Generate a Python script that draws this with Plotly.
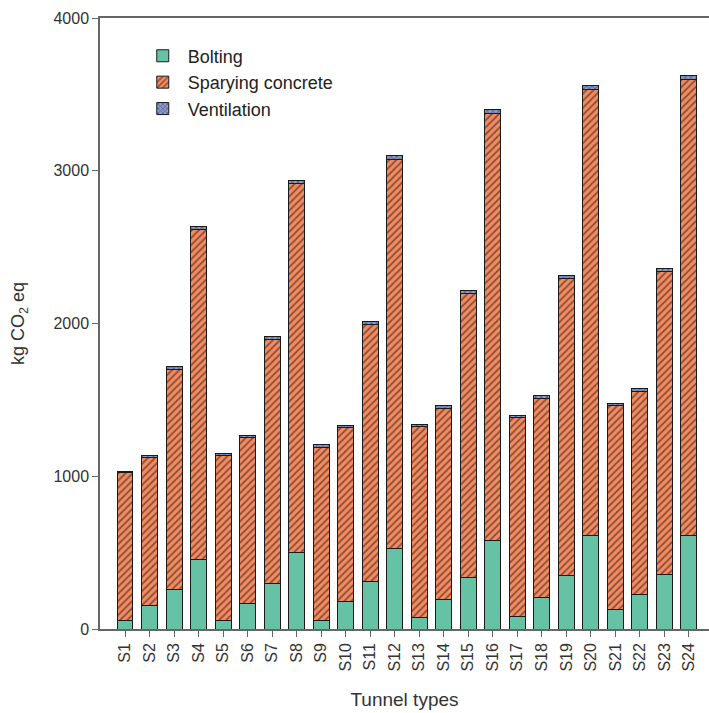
import plotly.graph_objects as go

categories = [f"S{i}" for i in range(1, 25)]
totals = [1034, 1133, 1717, 2638, 1148, 1266, 1914, 2939, 1205, 1331, 2012, 3097,
          1342, 1460, 2213, 3398, 1401, 1527, 2315, 3555, 1477, 1576, 2361, 3622]
bolting = [54, 151, 260, 452, 54, 168, 295, 502, 54, 181, 308, 528,
           77, 194, 338, 581, 79, 207, 352, 609, 129, 225, 360, 615]
ventilation = [12, 13, 16, 20, 13, 14, 17, 22, 14, 15, 18, 23,
               15, 16, 19, 24, 16, 17, 20, 25, 17, 18, 21, 26]
spraying = [t - b - v for t, b, v in zip(totals, bolting, ventilation)]
y_ticks = [0, 1000, 2000, 3000, 4000]

FONT = "Liberation Sans, Arial, sans-serif"
line = dict(color="#1a1a1a", width=1)

fig = go.Figure()
fig.add_trace(go.Bar(x=categories, y=bolting, name="Bolting", width=0.65,
                     marker=dict(color="#66C2A5", line=line)))
fig.add_trace(go.Bar(x=categories, y=spraying, name="Sparying concrete", width=0.65,
                     marker=dict(color="#FC8D62", line=line,
                                 pattern=dict(shape="/", fgcolor="#1a1a1a", bgcolor="#F78B5F",
                                              size=5, solidity=0.38))))
fig.add_trace(go.Bar(x=categories, y=ventilation, name="Ventilation", width=0.65,
                     marker=dict(color="#8DA0CB", line=line,
                                 pattern=dict(shape="x", fgcolor="#1f2a5a", bgcolor="#8DA0CB",
                                              size=4, solidity=0.45))))

fig.update_layout(
    barmode="stack",
    width=709, height=713,
    margin=dict(l=100, r=0, t=18, b=84),
    paper_bgcolor="white", plot_bgcolor="white",
    font=dict(family=FONT, color="#333333", size=15),
    showlegend=True,
    legend=dict(x=0.062, y=0.968, xanchor="left", yanchor="top",
                font=dict(size=18, color="#222222"), bgcolor="rgba(0,0,0,0)",
                traceorder="normal", itemwidth=40, tracegroupgap=0),
    xaxis=dict(range=[-1.02, 23.82], showline=True, linecolor="#666666", linewidth=1.5,
               mirror=True, ticks="outside", ticklen=6, tickcolor="#666666",
               tickangle=-90, tickfont=dict(size=16, color="#333333"),
               title=dict(text="Tunnel types", font=dict(size=19, color="#333333"), standoff=22),
               showgrid=False, zeroline=False),
    yaxis=dict(range=[0, 4000], tickvals=y_ticks, ticktext=[str(v) for v in y_ticks],
               showline=True, linecolor="#666666", linewidth=1.5,
               ticks="outside", ticklen=6, tickcolor="#666666",
               tickfont=dict(size=16, color="#333333"),
               title=dict(text="kg CO<sub>2</sub> eq", font=dict(size=18, color="#333333"), standoff=24),
               showgrid=False, zeroline=False),
)

fig.write_html("out.html", config={"displayModeBar": False},
               post_script="document.body.style.margin='0';document.body.style.overflow='hidden';")
